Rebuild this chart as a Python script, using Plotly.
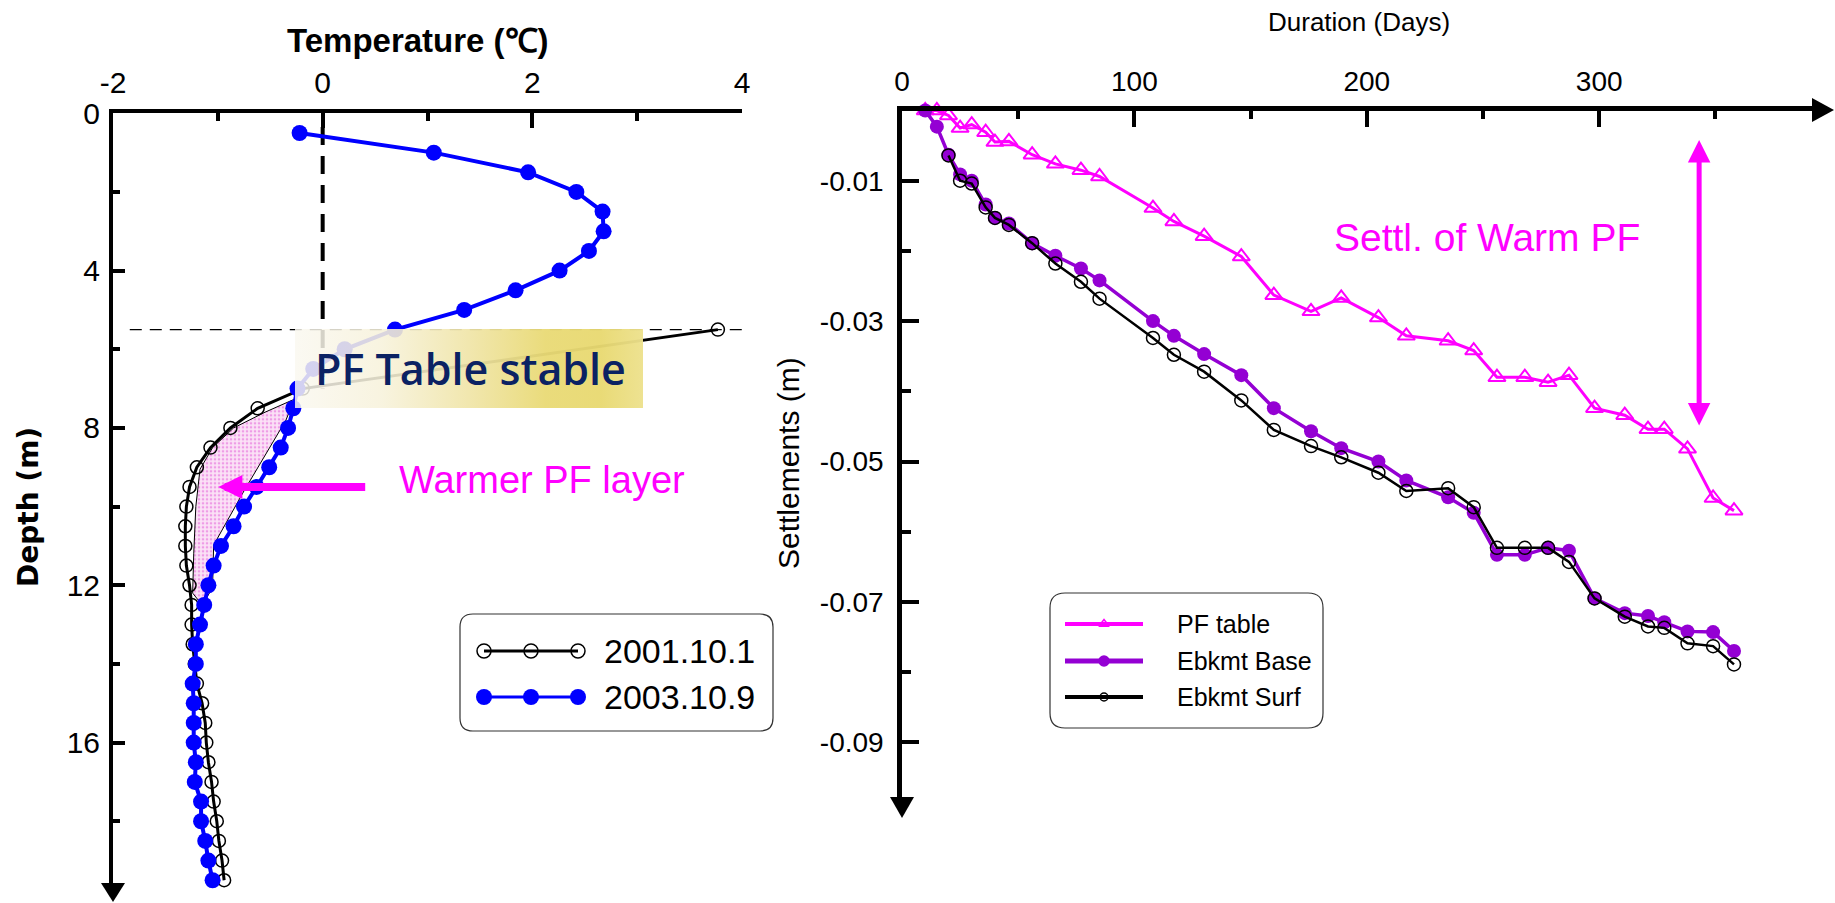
import plotly.graph_objects as go

W, H = 1835, 903
FONT = "Liberation Sans, Arial, Helvetica, sans-serif"

# ---------------- left panel: ground temperature profiles ----------------
depth_2003 = [0.5, 1.0, 1.5, 2.0, 2.5, 3.0, 3.5, 4.0, 4.5, 5.0, 5.5, 6.0, 6.5, 7.0, 7.5,
              8.0, 8.5, 9.0, 9.5, 10.0, 10.5, 11.0, 11.5, 12.0, 12.5, 13.0, 13.5, 14.0,
              14.5, 15.0, 15.5, 16.0, 16.5, 17.0, 17.5, 18.0, 18.5, 19.0, 19.5]
temp_2003 = [-0.22, 1.06, 1.96, 2.42, 2.67, 2.68, 2.54, 2.26, 1.84, 1.35, 0.69, 0.21, -0.09,
             -0.24, -0.28, -0.33, -0.40, -0.51, -0.63, -0.75, -0.85, -0.97, -1.04, -1.09,
             -1.13, -1.17, -1.21, -1.21, -1.24, -1.23, -1.23, -1.23, -1.21, -1.22, -1.16,
             -1.16, -1.12, -1.09, -1.05]
depth_2001 = [5.5, 7.0, 7.5, 8.0, 8.5, 9.0, 9.5, 10.0, 10.5, 11.0, 11.5, 12.0, 12.5, 13.0,
              13.5, 14.0, 14.5, 15.0, 15.5, 16.0, 16.5, 17.0, 17.5, 18.0, 18.5, 19.0, 19.5]
temp_2001 = [3.77, -0.19, -0.62, -0.88, -1.07, -1.20, -1.27, -1.30, -1.31, -1.31, -1.30,
             -1.27, -1.25, -1.25, -1.24, -1.22, -1.20, -1.15, -1.12, -1.11, -1.09, -1.06,
             -1.04, -1.01, -0.99, -0.96, -0.94]

# outline of the hatched "warmer permafrost" zone
warm_layer_T = [-0.27, -0.55, -0.85, -1.05, -1.17, -1.21, -1.23, -1.24, -1.15, -1.05,
                -1.04, -0.75, -0.35, -0.27]
warm_layer_depth = [7.27, 7.6, 8.0, 8.5, 9.05, 10.0, 11.2, 12.2, 12.5, 12.07, 10.98, 9.6,
                    7.8, 7.27]

temp_ticks = [-2, 0, 2, 4]
temp_tick_text = ["-2", "0", "2", "4"]
temp_minor = [-1, 1, 3]
depth_ticks = [0, 4, 8, 12, 16]
depth_tick_text = ["0", "4", "8", "12", "16"]
depth_minor = [2, 6, 10, 14, 18]

# ---------------- right panel: settlements ----------------
days = [10, 15, 20, 25, 30, 36, 40, 46, 56, 66, 77, 85, 108, 117, 130, 146, 160, 176, 189,
        205, 217, 235, 246, 256, 268, 278, 287, 298, 311, 321, 328, 338, 349, 358]
pf_table = [0.0, 0.0, -0.0007, -0.0025, -0.0020, -0.0031, -0.0045, -0.0044, -0.0063,
            -0.0076, -0.0085, -0.0094, -0.0139, -0.0158, -0.0179, -0.0208, -0.0263,
            -0.0286, -0.0267, -0.0295, -0.0321, -0.0328, -0.0342, -0.0380, -0.0380,
            -0.0387, -0.0377, -0.0424, -0.0434, -0.0454, -0.0454, -0.0482, -0.0552, -0.0570]
ebkmt_base = [0.0, -0.0023, -0.0063, -0.0091, -0.0100, -0.0134, -0.0153, -0.0161, -0.0189,
              -0.0207, -0.0225, -0.0242, -0.0300, -0.0321, -0.0347, -0.0377, -0.0424,
              -0.0457, -0.0481, -0.0500, -0.0527, -0.0551, -0.0573, -0.0633, -0.0633,
              -0.0623, -0.0627, -0.0695, -0.0716, -0.0720, -0.0729, -0.0742, -0.0743, -0.0770]
surf_days = [20, 25, 30, 36, 40, 46, 56, 66, 77, 85, 108, 117, 130, 146, 160, 176, 189,
             205, 217, 235, 246, 256, 268, 278, 287, 298, 311, 321, 328, 338, 349, 358]
ebkmt_surf = [-0.0064, -0.0100, -0.0104, -0.0138, -0.0153, -0.0163, -0.0189, -0.0218,
              -0.0244, -0.0268, -0.0324, -0.0348, -0.0372, -0.0413, -0.0455, -0.0478,
              -0.0494, -0.0516, -0.0542, -0.0538, -0.0565, -0.0623, -0.0623, -0.0623,
              -0.0643, -0.0695, -0.0721, -0.0735, -0.0737, -0.0759, -0.0763, -0.0789]

day_ticks = [0, 100, 200, 300]
day_tick_text = ["0", "100", "200", "300"]
day_minor = [50, 150, 250, 350]
settl_ticks = [-0.01, -0.03, -0.05, -0.07, -0.09]
settl_tick_text = ["-0.01", "-0.03", "-0.05", "-0.07", "-0.09"]
settl_minor = [-0.02, -0.04, -0.06, -0.08]

# ---------------- geometry (pixels) ----------------
L_X0, L_X1 = 113, 742          # temperature -2 .. 4
L_Y0, L_Y1 = 113.3, 883        # depth 0 .. axis end
L_DEPTH_END = (L_Y1 - L_Y0) / 39.33
R_X0, R_X1 = 902, 1812         # day 0 .. axis end
R_DAY_END = (R_X1 - R_X0) / 2.324
R_Y0, R_Y1 = 110.5, 797        # settlement 0 .. axis end
R_S_END = -(R_Y1 - R_Y0) / 7020.0

MAGENTA = "#FF00FF"
PURPLE = "#9400D3"
BLUE = "#0000FF"

fig = go.Figure()

# left panel traces
fig.add_trace(go.Scatter(
    x=warm_layer_T, y=warm_layer_depth, xaxis="x", yaxis="y", mode="lines",
    fill="toself", line=dict(color="black", width=1),
    fillpattern=dict(shape=".", bgcolor="#FBE2F6", fgcolor="#E255D6", size=4, solidity=0.35),
    hoverinfo="skip", showlegend=False))
fig.add_trace(go.Scatter(
    x=temp_2001, y=depth_2001, xaxis="x", yaxis="y", mode="lines+markers", name="2001.10.1",
    line=dict(color="black", width=3),
    marker=dict(symbol="circle-open", size=13, color="black", line=dict(width=1.5)),
    cliponaxis=False, showlegend=False))
fig.add_trace(go.Scatter(
    x=temp_2003, y=depth_2003, xaxis="x", yaxis="y", mode="lines+markers", name="2003.10.9",
    line=dict(color=BLUE, width=4),
    marker=dict(symbol="circle", size=16, color=BLUE),
    cliponaxis=False, showlegend=False))

# right panel traces
fig.add_trace(go.Scatter(
    x=days, y=pf_table, xaxis="x2", yaxis="y2", mode="lines+markers", name="PF table",
    line=dict(color=MAGENTA, width=3),
    marker=dict(symbol="triangle-up-open", size=15, color=MAGENTA, line=dict(width=2)),
    cliponaxis=False, showlegend=False))
fig.add_trace(go.Scatter(
    x=days, y=ebkmt_base, xaxis="x2", yaxis="y2", mode="lines+markers", name="Ebkmt Base",
    line=dict(color=PURPLE, width=3.5),
    marker=dict(symbol="circle", size=14, color=PURPLE),
    cliponaxis=False, showlegend=False))
fig.add_trace(go.Scatter(
    x=surf_days, y=ebkmt_surf, xaxis="x2", yaxis="y2", mode="lines+markers", name="Ebkmt Surf",
    line=dict(color="black", width=2.5),
    marker=dict(symbol="circle-open", size=13, color="black", line=dict(width=1.5)),
    cliponaxis=False, showlegend=False))

# ---------------- overlay (pixel) layer: box + legends ----------------
box_x0, box_x1, box_y0, box_y1 = 295, 643, 329, 408
fig.add_trace(go.Scatter(
    x=[box_x0, box_x1, box_x1, box_x0, box_x0], y=[box_y0, box_y0, box_y1, box_y1, box_y0],
    xaxis="x3", yaxis="y3", mode="lines", fill="toself", line=dict(width=0),
    fillgradient=dict(type="horizontal", colorscale=[
        [0.0, "rgba(250,248,240,0.84)"], [0.25, "rgba(247,242,219,0.88)"],
        [0.5, "rgba(240,229,168,0.93)"], [0.72, "rgba(233,218,118,0.96)"],
        [0.88, "rgba(232,217,113,0.96)"], [1.0, "rgba(237,225,141,0.96)"]]),
    hoverinfo="skip", showlegend=False))

# left legend samples
leg_l_x = [484, 531, 578]
fig.add_trace(go.Scatter(x=leg_l_x, y=[651] * 3, xaxis="x3", yaxis="y3", mode="lines+markers",
                         line=dict(color="black", width=3),
                         marker=dict(symbol="circle-open", size=14, color="black", line=dict(width=1.5)),
                         showlegend=False, hoverinfo="skip"))
fig.add_trace(go.Scatter(x=leg_l_x, y=[697] * 3, xaxis="x3", yaxis="y3", mode="lines+markers",
                         line=dict(color=BLUE, width=3),
                         marker=dict(symbol="circle", size=16, color=BLUE),
                         showlegend=False, hoverinfo="skip"))
# right legend samples
leg_r = [(624, MAGENTA, 4, "triangle-up-open", 9), (661, PURPLE, 5, "circle", 10),
         (697, "black", 4, "circle-open", 8)]
for yy, col, lw, sym, ms in leg_r:
    fig.add_trace(go.Scatter(x=[1065, 1143], y=[yy, yy], xaxis="x3", yaxis="y3", mode="lines",
                             line=dict(color=col, width=lw), showlegend=False, hoverinfo="skip"))
    fig.add_trace(go.Scatter(x=[1104], y=[yy], xaxis="x3", yaxis="y3", mode="markers",
                             marker=dict(symbol=sym, size=ms, color=col, line=dict(width=1.5, color=col)),
                             showlegend=False, hoverinfo="skip"))


def rrect(x0, y0, x1, y1, r):
    return (f"M {x0+r},{y0} L {x1-r},{y0} Q {x1},{y0} {x1},{y0+r} L {x1},{y1-r} "
            f"Q {x1},{y1} {x1-r},{y1} L {x0+r},{y1} Q {x0},{y1} {x0},{y1-r} "
            f"L {x0},{y0+r} Q {x0},{y0} {x0+r},{y0} Z")


shapes = [
    # dashed reference lines (left panel)
    dict(type="line", xref="x", yref="y", x0=-1.84, x1=4.0, y0=5.5, y1=5.5, layer="below",
         line=dict(color="black", width=1.3, dash="12px,8px")),
    dict(type="line", xref="x", yref="y", x0=0, x1=0, y0=0.35, y1=7.0, layer="below",
         line=dict(color="black", width=4, dash="18px,11px")),
    # legend frames
    dict(type="path", xref="x3", yref="y3", path=rrect(460, 614, 773, 731, 13),
         line=dict(color="#333333", width=1.2), fillcolor="rgba(0,0,0,0)"),
    dict(type="path", xref="x3", yref="y3", path=rrect(1050, 593, 1323, 728, 15),
         line=dict(color="#333333", width=1.2), fillcolor="rgba(0,0,0,0)"),
    # axis arrowheads
    dict(type="path", xref="x3", yref="y3", path=f"M 101,{L_Y1} L 125,{L_Y1} L 113,902 Z",
         fillcolor="black", line=dict(width=0)),
    dict(type="path", xref="x3", yref="y3", path=f"M 890,{R_Y1} L 914,{R_Y1} L 902,818 Z",
         fillcolor="black", line=dict(width=0)),
    dict(type="path", xref="x3", yref="y3", path=f"M {R_X1},98 L {R_X1},122 L 1834,110 Z",
         fillcolor="black", line=dict(width=0)),
]


def txt(x, y, s, size, color="black", family=FONT, weight="normal", angle=0, xanchor="center"):
    return dict(x=x, y=y, xref="x3", yref="y3", text=s, showarrow=False, textangle=angle,
                xanchor=xanchor, yanchor="middle",
                font=dict(size=size, color=color, family=family, weight=weight))


annotations = [
    txt(418, 40, "Temperature (\u2103)", 33, weight="bold"),
    txt(28, 507, "Depth (m)", 28, family="DejaVu Sans, Verdana, sans-serif", weight="bold", angle=-90),
    txt(1359, 22, "Duration (Days)", 26),
    txt(788, 463, "Settlements (m)", 30, angle=-90),
    txt(470, 368, "PF Table stable", 43, color="#0B2263",
        family="Open Sans, Noto Sans, sans-serif", weight=600),
    txt(542, 480, "Warmer PF layer", 38, color=MAGENTA),
    txt(1487, 237, "Settl. of Warm PF", 39, color=MAGENTA),
    txt(602, 651, "2001.10.1", 34, xanchor="left"),
    txt(602, 697, "2003.10.9", 34, xanchor="left"),
    txt(1175, 624, "PF table", 25, xanchor="left"),
    txt(1175, 661, "Ebkmt Base", 25, xanchor="left"),
    txt(1175, 697, "Ebkmt Surf", 25, xanchor="left"),
    # arrows
    dict(x=-0.995, y=9.5, ax=0.42, ay=9.5, xref="x", yref="y", axref="x", ayref="y",
         text="", showarrow=True, arrowhead=2, arrowsize=0.6, arrowwidth=8, arrowcolor=MAGENTA),
    dict(x=343, y=-0.0042, ax=343, ay=-0.0451, xref="x2", yref="y2", axref="x2", ayref="y2",
         text="", showarrow=True, arrowside="end+start", arrowhead=2, startarrowhead=2,
         arrowsize=0.9, startarrowsize=0.9, arrowwidth=5, arrowcolor=MAGENTA),
]

axis_common = dict(showline=True, linecolor="black", showgrid=False, zeroline=False,
                   ticks="inside", tickcolor="black", fixedrange=True, automargin=False)

fig.update_layout(
    width=W, height=H, margin=dict(l=0, r=0, t=0, b=0, pad=0, autoexpand=False),
    paper_bgcolor="white", plot_bgcolor="rgba(0,0,0,0)",
    showlegend=False,
    font=dict(family=FONT, color="black"),
    xaxis=dict(domain=[L_X0 / W, L_X1 / W], range=[-2, 4], side="top", anchor="y",
               linewidth=4, tickvals=temp_ticks, ticktext=temp_tick_text, ticklen=15,
               tickwidth=3.5, ticklabelstandoff=4,
               tickfont=dict(size=30, family=FONT, color="black"),
               minor=dict(tickvals=temp_minor, ticks="inside", ticklen=8, tickwidth=3.5,
                          tickcolor="black", showgrid=False),
               **axis_common),
    yaxis=dict(domain=[1 - L_Y1 / H, 1 - L_Y0 / H], range=[L_DEPTH_END, 0], anchor="x",
               linewidth=4, tickvals=depth_ticks, ticktext=depth_tick_text, ticklen=12,
               tickwidth=3.5, ticklabelstandoff=3,
               tickfont=dict(size=30, family=FONT, color="black"),
               minor=dict(tickvals=depth_minor, ticks="inside", ticklen=7, tickwidth=3.5,
                          tickcolor="black", showgrid=False),
               **axis_common),
    xaxis2=dict(domain=[R_X0 / W, R_X1 / W], range=[0, R_DAY_END], side="top", anchor="y2",
                linewidth=4.5, tickvals=day_ticks, ticktext=day_tick_text, ticklen=17,
                tickwidth=4, ticklabelstandoff=4,
                tickfont=dict(size=28, family=FONT, color="black"),
                minor=dict(tickvals=day_minor, ticks="inside", ticklen=9, tickwidth=4,
                           tickcolor="black", showgrid=False),
                **axis_common),
    yaxis2=dict(domain=[1 - R_Y1 / H, 1 - R_Y0 / H], range=[R_S_END, 0], anchor="x2",
                linewidth=4.5, tickvals=settl_ticks, ticktext=settl_tick_text, ticklen=17,
                tickwidth=4, ticklabelstandoff=8,
                tickfont=dict(size=28, family=FONT, color="black"),
                minor=dict(tickvals=settl_minor, ticks="inside", ticklen=9, tickwidth=4,
                           tickcolor="black", showgrid=False),
                **axis_common),
    xaxis3=dict(domain=[0, 1], range=[0, W], anchor="y3", visible=False, fixedrange=True),
    yaxis3=dict(domain=[0, 1], range=[H, 0], anchor="x3", visible=False, fixedrange=True),
    shapes=shapes,
    annotations=annotations,
)

fig.write_html("out.html")
